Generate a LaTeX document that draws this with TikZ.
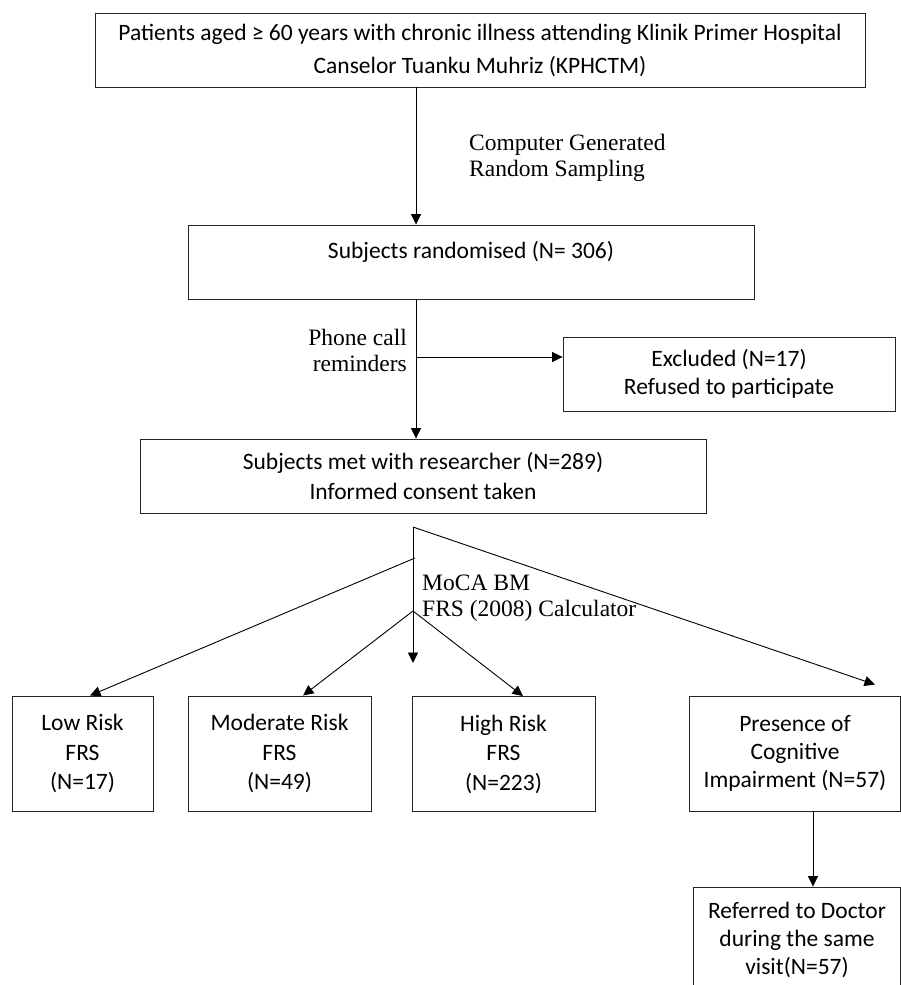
\documentclass[tikz,border=0pt]{standalone}
\usepackage{fontspec}
\setmainfont{Carlito}
\newfontfamily\tnr{Liberation Serif}
\usetikzlibrary{arrows.meta,calc}
\begin{document}
\begin{tikzpicture}[x=1pt,y=-1pt,
  box/.style={draw=black!85, line width=0.9pt, inner sep=0pt, align=center,
    font=\fontsize{23.5}{28.5}\selectfont},
  lbl/.style={inner sep=0pt, font=\tnr\fontsize{23.5}{26}\selectfont},
  arr/.style={draw, line width=0.9pt, -{Triangle[length=10.5pt,width=10pt]}},
  ln/.style={draw, line width=0.9pt}]
\useasboundingbox (0,0) rectangle (901,985);
\clip (0,0) rectangle (901,985);

% boxes
\node[box, minimum width=770, minimum height=74, font=\fontsize{23.5}{33}\selectfont]
  (top) at (480,50) {Patients aged ≥ 60 years with chronic illness attending Klinik Primer Hospital\\Canselor Tuanku Muhriz (KPHCTM)};
\node[box, minimum width=566, minimum height=74] (rand) at (471,262)
  {Subjects randomised (N= 306)\\[-12pt]\strut};
\node[box, minimum width=332, minimum height=74] (excl) at (729,374)
  {Excluded (N=17)\\Refused to participate};
\node[box, minimum width=566, minimum height=74, font=\fontsize{23.5}{30}\selectfont] (met) at (423,476)
  {Subjects met with researcher (N=289)\\Informed consent taken};
\node[box, minimum width=141, minimum height=115, font=\fontsize{23.5}{29.5}\selectfont] (low) at (82.5,753.5)
  {Low Risk\\FRS\\(N=17)};
\node[box, minimum width=183, minimum height=115, font=\fontsize{23.5}{29.5}\selectfont] (mod) at (279.5,753.5)
  {Moderate Risk\\FRS\\(N=49)};
\node[box, minimum width=183, minimum height=115, font=\fontsize{23.5}{29.5}\selectfont] (high) at (503.5,754)
  {High Risk\\FRS\\(N=223)};
\node[box, minimum width=211, minimum height=115, font=\fontsize{23.5}{28}\selectfont] (pres) at (795,753.5)
  {Presence of\\Cognitive\\Impairment (N=57)};
\node[box, minimum width=207, minimum height=106, font=\fontsize{23.5}{28}\selectfont] (ref) at (797,940)
  {Referred to Doctor\\during the same\\visit(N=57)};

% labels
\node[lbl, anchor=west, align=left] (cg) at (469,157.5) {Computer Generated\\Random Sampling};
\node[lbl, anchor=east, align=right] (phone) at (407,350) {Phone call\\reminders};
\node[lbl, anchor=west, align=left] (moca) at (422,598) {MoCA BM\\FRS (2008) Calculator};

% connectors
\coordinate (ax) at (416,0);
\draw[arr] (top.south -| ax) -- (rand.north -| ax);
\draw[arr] (rand.south -| ax) -- (met.north -| ax);
\coordinate (br) at (416,357);
\draw[arr] (br) -- (br -| excl.west);

\coordinate (apex) at (413,527);
\coordinate (s1) at (415,558);
\coordinate (s2) at (413,611);
\coordinate (vt) at (413,663);
\draw[arr] (apex) -- (vt);
\draw[arr] (apex) -- ($(pres.north)+(80,-11)$);
\draw[arr] (s1) -- ($(low.north)+(7.5,0)$);
\draw[arr] (s2) -- ($(mod.north)+(23.5,0)$);
\draw[arr] (s2) -- ($(high.north)+(19.5,0)$);

\coordinate (rx) at (813,0);
\draw[arr] (pres.south -| rx) -- (ref.north -| rx);
\end{tikzpicture}
\end{document}
